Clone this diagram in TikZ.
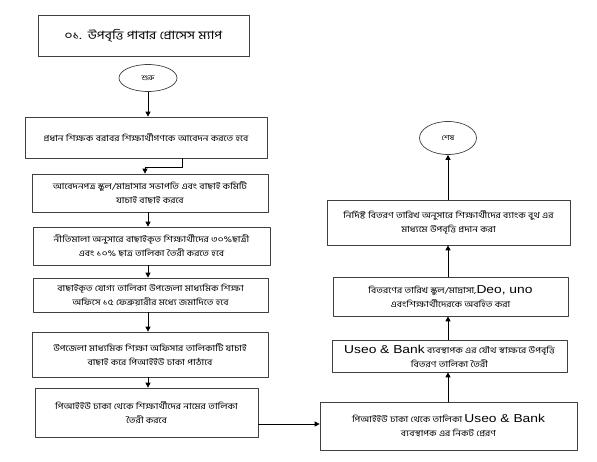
\documentclass[tikz,border=0pt]{standalone}
\usepackage{fontspec}
\setmainfont{Liberation Sans}
\newfontfamily\bn[Script=Bengali,FakeStretch=1.2]{Hind Siliguri}
\newfontfamily\lat[FakeStretch=1.2]{Liberation Sans}
\usetikzlibrary{shapes.geometric,arrows.meta}
\newcommand{\engtxt}[1]{{\lat\fontsize{11.5}{12}\selectfont #1}}
\tikzset{
  box/.style={draw=black!75,line width=.7pt,align=center,inner sep=2pt,font=\bn\fontsize{8.4}{14}\selectfont},
  term/.style={draw=black!75,line width=.7pt,ellipse,inner sep=0pt,font=\bn\fontsize{7}{8}\selectfont},
  flow/.style={line width=.8pt,-{Triangle[length=5pt,width=5pt]}}
}
\begin{document}
\begin{tikzpicture}[x=1pt,y=-1pt,line join=round]
			\useasboundingbox (0,0) rectangle (597,461);
			\coordinate (lx) at (148,0);
			\coordinate (rx) at (448,0);
			\coordinate (k1) at (182,167);
			\coordinate (k2) at (145,167);
			\coordinate (k3) at (0,424);
			% left column
			\node[box,minimum width=211pt,minimum height=41pt,font=\bn\fontsize{11.5}{12}\selectfont] (title) at (143.5,35.5) {০১.\ \ উপবৃত্তি পাবার প্রোসেস ম্যাপ};
			\node[term,minimum width=58pt,minimum height=27pt] (start) at (148,78) {শুরু};
			\node[box,minimum width=242pt,minimum height=41pt] (b1) at (146,137.5) {প্রধান শিক্ষক বরাবর শিক্ষার্থীগণকে আবেদন করতে হবে};
			\node[box,minimum width=236pt,minimum height=38pt] (b2) at (150,193) {আবেদনপত্র স্কুল/মাদ্রাসার সভাপতি এবং বাছাই কমিটি\\ যাচাই বাছাই করবে};
			\node[box,minimum width=237pt,minimum height=38pt] (b3) at (151.5,246) {নীতিমালা অনুসারে বাছাইকৃত শিক্ষার্থীদের ৩০\%ছাত্রী\\ এবং ১০\% ছাত্র তালিকা তৈরী করতে হবে};
			\node[box,minimum width=235pt,minimum height=34pt] (b4) at (150.5,295) {বাছাইকৃত যোগ্য তালিকা উপজেলা মাধ্যমিক শিক্ষা\\ অফিসে ১৫ ফেব্রুয়ারীর মধ্যে জমাদিতে হবে};
			\node[box,minimum width=236pt,minimum height=45pt] (b5) at (150,354.5) {উপজেলা মাধ্যমিক শিক্ষা অফিসার তালিকাটি যাচাই\\ বাছাই করে পিআইইউ ঢাকা পাঠাবে};
			\node[box,minimum width=223pt,minimum height=49pt] (b6) at (146.5,412.5) {পিআইইউ ঢাকা থেকে শিক্ষার্থীদের নামের তালিকা\\ তৈরী করবে};
			% right column
			\node[box,minimum width=257pt,minimum height=48pt] (b7) at (448.5,426) {পিআইইউ ঢাকা থেকে তালিকা \engtxt{Useo \& Bank}\\ ব্যবস্থাপক এর নিকট প্রেরণ};
			\node[box,minimum width=235pt,minimum height=32pt] (b8) at (449.5,356) {\engtxt{Useo \& Bank} ব্যবস্থাপক এর যৌথ স্বাক্ষরে উপবৃত্তি\\ বিতরণ তালিকা তৈরী};
			\node[box,minimum width=235pt,minimum height=39pt] (b9) at (450.5,296.5) {বিতরণের তারিখ স্কুল/মাদ্রাসা,\engtxt{Deo, uno}\\ এবংশিক্ষার্থীদেরকে অবহিত করা};
			\node[box,minimum width=243pt,minimum height=45pt] (b10) at (448.5,222.5) {নির্দিষ্ট বিতরণ তারিখ অনুসারে শিক্ষার্থীদের ব্যাংক বুথ এর\\ মাধ্যমে উপবৃত্তি প্রদান করা};
			\node[term,minimum width=57pt,minimum height=33pt] (end) at (448,138) {শেষ};
			% connectors
			\draw[flow] (start.south -| lx) -- (b1.north -| lx);
			\draw[flow] (b1.south -| k1) -- (k1) -- (k2) -- (b2.north -| k2);
			\draw[flow] (b2.south -| lx) -- (b3.north -| lx);
			\draw[flow] (b3.south -| lx) -- (b4.north -| lx);
			\draw[flow] (b4.south -| lx) -- (b5.north -| lx);
			\draw[flow] (b5.south -| lx) -- (b6.north -| lx);
			\draw[flow] (b6.east |- k3) -- (b7.west |- k3);
			\draw[flow] (b7.north -| rx) -- (b8.south -| rx);
			\draw[flow] (b8.north -| rx) -- (b9.south -| rx);
			\draw[flow] (b9.north -| rx) -- (b10.south -| rx);
			\draw[flow] (b10.north -| rx) -- (end.south);
\end{tikzpicture}
\end{document}
